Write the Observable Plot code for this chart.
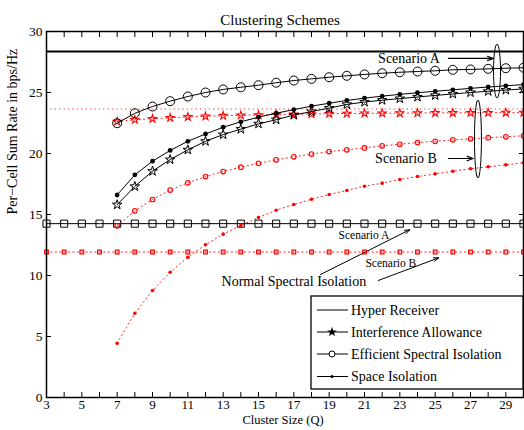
<!DOCTYPE html>
<html><head><meta charset="utf-8">
<script src="https://cdn.jsdelivr.net/npm/d3@7"></script>
<script src="https://cdn.jsdelivr.net/npm/@observablehq/plot@0.6"></script>
<style>body{margin:0;background:#fff}</style>
</head><body><div id="chart"></div>
<script>
// ---- data ----
const qAll = [3,4,5,6,7,8,9,10,11,12,13,14,15,16,17,18,19,20,21,22,23,24,25,26,27,28,29,30];
const qSch = [7,8,9,10,11,12,13,14,15,16,17,18,19,20,21,22,23,24,25,26,27,28,29,30];
const xTickLabels = [3,5,7,9,11,13,15,17,19,21,23,25,27,29];
const yTicks = [0,5,10,15,20,25,30];

const hyperA = 28.36;   // Hyper Receiver, Scenario A
const hyperB = 23.65;   // Hyper Receiver, Scenario B

const interfA = [15.8,17.3,18.55,19.5,20.3,21.0,21.55,22.0,22.43,22.77,23.15,23.44,23.72,24.02,24.22,24.37,24.5,24.63,24.76,24.88,25.0,25.1,25.2,25.3];
const effA    = [22.48,23.3,23.85,24.29,24.67,25.0,25.25,25.43,25.6,25.8,25.98,26.12,26.25,26.37,26.48,26.58,26.66,26.72,26.78,26.86,26.89,26.94,26.99,27.03];
const spaceA  = [16.6,18.25,19.37,20.25,21.0,21.6,22.15,22.6,22.98,23.3,23.6,23.88,24.12,24.35,24.54,24.7,24.85,24.98,25.1,25.22,25.34,25.45,25.55,25.65];
const interfB = [22.62,22.76,22.85,22.93,23.0,23.05,23.1,23.13,23.16,23.2,23.22,23.24,23.26,23.28,23.29,23.3,23.31,23.32,23.33,23.33,23.34,23.34,23.35,23.35];
const effB    = [14.07,15.3,16.23,17.0,17.6,18.11,18.52,18.88,19.2,19.48,19.73,19.95,20.16,20.3,20.46,20.63,20.76,20.9,21.0,21.12,21.2,21.3,21.37,21.45];
const spaceB  = [4.45,6.91,8.77,10.27,11.5,12.52,13.39,14.1,14.75,15.35,15.82,16.25,16.64,16.97,17.32,17.57,17.87,18.11,18.33,18.55,18.75,18.91,19.07,19.24];
const normalA = [14.25,14.25,14.25,14.25,14.25,14.25,14.25,14.25,14.25,14.25,14.25,14.25,14.25,14.25,14.25,14.25,14.25,14.25,14.25,14.25,14.25,14.25,14.25,14.25,14.25,14.25,14.25,14.25];
const normalB = [11.92,11.92,11.92,11.92,11.92,11.92,11.92,11.92,11.92,11.92,11.92,11.92,11.92,11.92,11.92,11.92,11.92,11.92,11.92,11.92,11.92,11.92,11.92,11.92,11.92,11.92,11.92,11.92];

const legendLabels = ["Hyper Receiver","Interference Allowance","Efficient Spectral Isolation","Space Isolation"];

// annotations (data coordinates)
const bigLabels = [
  {q:23.52, v:27.79, t:"Scenario A"},
  {q:23.35, v:19.59, t:"Scenario B"}
];
const bigArrows = [
  {q1:25.75, v1:27.79, q2:28.3, v2:27.79},
  {q1:25.75, v1:19.59, q2:27.15, v2:19.59}
];
const smallLabels = [
  {q:20.97, v:13.28, t:"Scenario A"},
  {q:22.49, v:11.0, t:"Scenario B"}
];
const smallArrows = [
  {q1:18.51, v1:10.08, q2:23.56, v2:13.75},
  {q1:21.78, v1:9.59, q2:25.2, v2:11.45}
];
const normalLabel = [{q:17.0, v:9.51, t:"Normal Spectral Isolation"}];
const ellipses = [
  {q:28.53, v:26.72, dv:2.21},
  {q:27.45, v:21.15, dv:3.2}
];

const rows = (qs, vs) => qs.map((q, i) => ({q, v: vs[i]}));
const red = "#ff0000";
const dotted = "1.2,3.2";

function series(qs, vs, o) {
  const d = rows(qs, vs);
  return [
    Plot.line(d, {x:"q", y:"v", stroke:o.stroke, strokeWidth:o.lw ?? 1, strokeDasharray:o.dash, strokeOpacity:o.op ?? 1}),
    Plot.dot(d, {x:"q", y:"v", symbol:o.symbol, r:o.r, fill:o.fill ?? "none", stroke:o.stroke, strokeWidth:o.sw ?? 1})
  ];
}

const plot = Plot.plot({
  width: 524,
  height: 430,
  marginLeft: 46,
  marginRight: 1,
  marginTop: 31,
  marginBottom: 33,
  style: {fontFamily: "'Liberation Serif', 'DejaVu Serif', serif", fontSize: "14px", background: "white", overflow: "visible"},
  x: {domain: [3, 30], label: null},
  y: {domain: [0, 30], label: null},
  marks: [
    Plot.ruleY([hyperA], {stroke: "black", strokeWidth: 2}),
    Plot.ruleY([hyperB], {stroke: red, strokeDasharray: dotted, strokeOpacity: 0.85}),
    ...series(qAll, normalB, {stroke: red, dash: dotted, op: 0.85, symbol: "square", r: 2.1, sw: 1.2}),
    ...series(qAll, normalA, {stroke: "black", symbol: "square", r: 4}),
    ...series(qSch, spaceB, {stroke: red, dash: dotted, op: 0.85, symbol: "circle", r: 1.8, fill: red, sw: 0}),
    ...series(qSch, effB, {stroke: red, dash: dotted, op: 0.85, symbol: "circle", r: 2.3, sw: 1.1}),
    ...series(qSch, interfB, {stroke: red, dash: dotted, op: 0.85, symbol: "star", r: 2.5, sw: 1.05}),
    ...series(qSch, spaceA, {stroke: "black", symbol: "circle", r: 2.4, fill: "black", sw: 0}),
    ...series(qSch, interfA, {stroke: "black", symbol: "star", r: 3, sw: 1}),
    ...series(qSch, effA, {stroke: "black", symbol: "circle", r: 4.5, sw: 1}),
    // axes
    Plot.axisX({anchor: "bottom", ticks: qAll, tickSize: -5, tickFormat: () => ""}),
    Plot.axisX({anchor: "top", ticks: qAll, tickSize: -5, tickFormat: () => ""}),
    Plot.axisX({anchor: "bottom", ticks: xTickLabels, tickSize: 0, tickPadding: 2, fontSize: 13, fill: "black"}),
    Plot.axisY({anchor: "left", ticks: yTicks, tickSize: -5, tickFormat: () => ""}),
    Plot.axisY({anchor: "right", ticks: yTicks, tickSize: -5, tickFormat: () => ""}),
    Plot.axisY({anchor: "left", ticks: yTicks, tickSize: 0, tickPadding: 4, fontSize: 13.5, fill: "black"}),
    Plot.frame({stroke: "black", strokeWidth: 1.5}),
    // annotations
    Plot.text(bigLabels, {x: "q", y: "v", text: "t", fontSize: 14, fill: "black"}),
    Plot.arrow(bigArrows, {x1: "q1", y1: "v1", x2: "q2", y2: "v2", stroke: "black", strokeWidth: 1.2, headLength: 8, headAngle: 40}),
    Plot.text(smallLabels, {x: "q", y: "v", text: "t", fontSize: 11.5, fill: "black"}),
    Plot.arrow(smallArrows, {x1: "q1", y1: "v1", x2: "q2", y2: "v2", stroke: "black", strokeWidth: 1, headLength: 8, headAngle: 40}),
    Plot.text(normalLabel, {x: "q", y: "v", text: "t", fontSize: 14, fill: "black"}),
    // titles
    Plot.text(["Clustering Schemes"], {frameAnchor: "top", dy: -17, dx: -5, fontSize: 15, fill: "black"}),
    Plot.text(["Per\u2212Cell Sum Rate in bps/Hz"], {frameAnchor: "left", rotate: -90, dx: -34, fontSize: 14, fill: "black"}),
    Plot.text(["Cluster Size (Q)"], {frameAnchor: "bottom", dy: 26, dx: -2, fontSize: 12.5, fill: "black"})
  ]
});

// ellipses + legend drawn with the plot's scales
const sx = plot.scale("x"), sy = plot.scale("y");
const svg = d3.select(plot);
svg.append("g").selectAll("ellipse").data(ellipses).join("ellipse")
  .attr("cx", d => sx.apply(d.q))
  .attr("cy", d => sy.apply(d.v))
  .attr("rx", 3.5)
  .attr("ry", d => sy.apply(d.v - d.dv) - sy.apply(d.v))
  .attr("fill", "none").attr("stroke", "black").attr("stroke-width", 1);

const lg = svg.append("g").attr("text-anchor", "start");
lg.append("rect").attr("x", 311).attr("y", 296).attr("width", 212).attr("height", 93)
  .attr("fill", "white").attr("stroke", "black").attr("stroke-width", 1.3);
const ly = [310, 332, 354, 376.5];
legendLabels.forEach((t, i) => {
  lg.append("line").attr("x1", 317).attr("x2", 348).attr("y1", ly[i]).attr("y2", ly[i])
    .attr("stroke", "black").attr("stroke-width", 1);
  lg.append("text").attr("x", 351).attr("y", ly[i]).attr("dy", "0.35em")
    .attr("text-anchor", "start")
    .attr("font-size", 14).attr("fill", "black").text(t);
});
lg.append("path").attr("transform", `translate(332,${ly[1]})`)
  .attr("d", d3.symbol(d3.symbolStar, 30)()).attr("fill", "black");
lg.append("circle").attr("cx", 332).attr("cy", ly[2]).attr("r", 3)
  .attr("fill", "white").attr("stroke", "black");
lg.append("circle").attr("cx", 332).attr("cy", ly[3]).attr("r", 1.6).attr("fill", "black");

document.getElementById("chart").appendChild(plot);
</script>
</body></html>
